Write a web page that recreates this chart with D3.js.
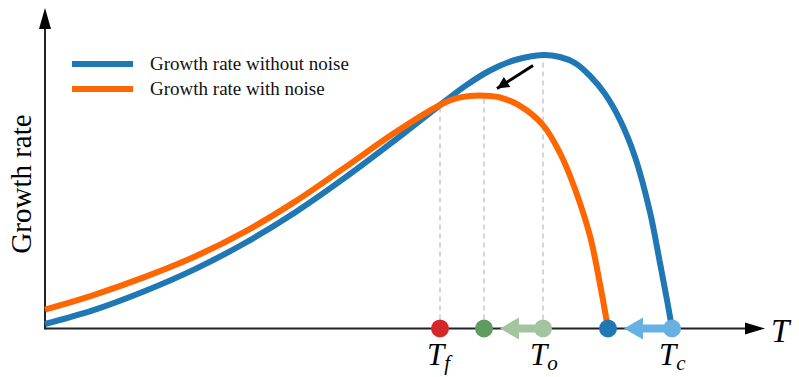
<!DOCTYPE html>
<html>
<head>
<meta charset="utf-8">
<script src="https://cdn.jsdelivr.net/npm/d3@7"></script>
<style>
  html, body { margin: 0; padding: 0; background: #fff; }
  svg { display: block; }
</style>
</head>
<body>
<svg id="chart" width="799" height="377"></svg>
<script>
// Thermal performance curves: growth rate vs temperature, with and without noise
const tempsNoNoise = [0, 5, 10, 15, 20, 25, 30, 35, 39.5, 42, 44.5, 47, 49.8, 51.5, 53, 54.5, 56, 57.5, 59, 60.5, 61.5, 62.2, 62.7];
const rateNoNoise  = [0.015, 0.063, 0.125, 0.198, 0.285, 0.387, 0.503, 0.628, 0.745, 0.808, 0.86, 0.895, 0.912, 0.905, 0.885, 0.842, 0.782, 0.695, 0.572, 0.388, 0.218, 0.095, 0];

const tempsNoise = [0, 5, 10, 15, 20, 25, 30, 35, 39.5, 41, 42.5, 43.9, 45.5, 47.5, 49.8, 51.5, 53, 54.5, 55.5, 56.3];
const rateNoise  = [0.063, 0.113, 0.172, 0.24, 0.323, 0.423, 0.537, 0.653, 0.745, 0.766, 0.775, 0.776, 0.77, 0.742, 0.678, 0.585, 0.465, 0.308, 0.148, 0];

const seriesNames  = ["Growth rate without noise", "Growth rate with noise"];
const seriesColors = ["#1f77b4", "#ff6600"];

// Characteristic temperatures on the axis
const markerTemps  = [39.5, 43.9, 49.8, 56.3, 62.7];
const markerColors = ["#d62728", "#5f9a5f", "#a3c49f", "#1f77b4", "#66b0e2"];

// Labelled temperatures (T_f, T_o, T_c)
const labelTemps = [39.5, 49.8, 62.7];
const labelSubs  = ["f", "o", "c"];

// Shifts caused by noise: optimum and critical temperature
const shiftFrom   = [49.8, 62.7];
const shiftTo     = [43.9, 56.3];
const shiftColors = ["#a3c49f", "#66b0e2"];

// Guides: crossing point, noisy optimum, optimum
const guideTemps = [39.5, 43.9, 49.8];
const guideRates = [
  rateNoise[tempsNoise.indexOf(39.5)],
  rateNoise[tempsNoise.indexOf(43.9)],
  rateNoNoise[tempsNoNoise.indexOf(49.8)]
];

// Annotation arrow showing the drop of the peak
const peakArrowT = [48.8, 45.2];
const peakArrowR = [0.877, 0.8];

const svg = d3.select("#chart");
const x = d3.scaleLinear().domain([0, 72]).range([45, 765]);
const y = d3.scaleLinear().domain([0, 1]).range([328.5, 28.5]);

const defs = svg.append("defs");
defs.append("marker").attr("id", "head-black")
  .attr("viewBox", "0 0 10 10").attr("refX", 10).attr("refY", 5)
  .attr("markerWidth", 14).attr("markerHeight", 12)
  .attr("markerUnits", "userSpaceOnUse").attr("orient", "auto")
  .append("path").attr("d", "M0,0 L10,5 L0,10 Z").attr("fill", "#000");

// Guides
svg.append("g").selectAll("line").data(guideTemps).join("line")
  .attr("x1", d => x(d)).attr("x2", d => x(d))
  .attr("y1", y(0)).attr("y2", (d, i) => y(guideRates[i]))
  .attr("stroke", "#c8c8c8").attr("stroke-width", 1.5)
  .attr("stroke-dasharray", "5,4");

// Axes with arrowheads
const x0 = x(0), y0 = y(0);
const xEnd = x.range()[1], yTop = 8;
svg.append("line").attr("x1", x0).attr("x2", xEnd - 18).attr("y1", y0).attr("y2", y0)
  .attr("stroke", "#222").attr("stroke-width", 2);
svg.append("path").attr("d", `M${xEnd},${y0} L${xEnd - 20},${y0 - 6} L${xEnd - 20},${y0 + 6} Z`).attr("fill", "#000");
svg.append("line").attr("x1", x0).attr("x2", x0).attr("y1", y0 + 1).attr("y2", yTop + 18)
  .attr("stroke", "#222").attr("stroke-width", 2);
svg.append("path").attr("d", `M${x0},${yTop} L${x0 - 6},${yTop + 21} L${x0 + 6},${yTop + 21} Z`).attr("fill", "#000");

// Curves
const line = d3.line().x(d => x(d[0])).y(d => y(d[1])).curve(d3.curveCatmullRom.alpha(0.5));
const curves = [
  d3.zip(tempsNoNoise, rateNoNoise),
  d3.zip(tempsNoise, rateNoise)
];
svg.append("g").selectAll("path").data(curves).join("path")
  .attr("d", line).attr("fill", "none")
  .attr("stroke", (d, i) => seriesColors[i]).attr("stroke-width", 6)
  .attr("stroke-linecap", "butt");

// Peak drop arrow
svg.append("line")
  .attr("x1", x(peakArrowT[0])).attr("y1", y(peakArrowR[0]))
  .attr("x2", x(peakArrowT[1])).attr("y2", y(peakArrowR[1]))
  .attr("stroke", "#000").attr("stroke-width", 3)
  .attr("marker-end", "url(#head-black)");

// Shift arrows along the temperature axis
const shifts = d3.range(shiftFrom.length);
const sg = svg.append("g");
shifts.forEach(i => {
  const xs = x(shiftFrom[i]), xt = x(shiftTo[i]);
  const tip = xt + 16, base = tip + 19;
  sg.append("rect").attr("x", base - 1).attr("y", y0 - 4)
    .attr("width", xs - base + 1).attr("height", 8).attr("fill", shiftColors[i]);
  sg.append("path").attr("d", `M${tip},${y0} L${base},${y0 - 11} L${base},${y0 + 11} Z`)
    .attr("fill", shiftColors[i]);
});

// Temperature markers
svg.append("g").selectAll("circle").data(markerTemps).join("circle")
  .attr("cx", d => x(d)).attr("cy", y0).attr("r", 9)
  .attr("fill", (d, i) => markerColors[i]);

// Temperature labels
const lab = svg.append("g").selectAll("text").data(labelTemps).join("text")
  .attr("x", d => x(d) - 13).attr("y", 365)
  .attr("font-family", "Liberation Serif, serif").attr("font-style", "italic")
  .attr("font-size", 31).attr("fill", "#000");
lab.append("tspan").text("T");
lab.append("tspan").attr("dy", 5).attr("font-size", 21).text((d, i) => labelSubs[i]);

svg.append("text").attr("x", 771).attr("y", 342)
  .attr("font-family", "Liberation Serif, serif").attr("font-style", "italic")
  .attr("font-size", 33).attr("fill", "#000").text("T");

// Y-axis title
svg.append("text").attr("transform", "translate(31,184) rotate(-90)")
  .attr("text-anchor", "middle")
  .attr("font-family", "Liberation Serif, serif").attr("font-size", 29)
  .attr("fill", "#000").text("Growth rate");

// Legend
const leg = svg.append("g").selectAll("g").data(seriesNames).join("g")
  .attr("transform", (d, i) => `translate(0,${64 + i * 25})`);
leg.append("line").attr("x1", 72).attr("x2", 133).attr("y1", 0).attr("y2", 0)
  .attr("stroke", (d, i) => seriesColors[i]).attr("stroke-width", 6);
leg.append("text").attr("x", 150).attr("y", 5.5)
  .attr("font-family", "Liberation Serif, serif").attr("font-size", 19)
  .attr("fill", "#111").text(d => d);
</script>
</body>
</html>
